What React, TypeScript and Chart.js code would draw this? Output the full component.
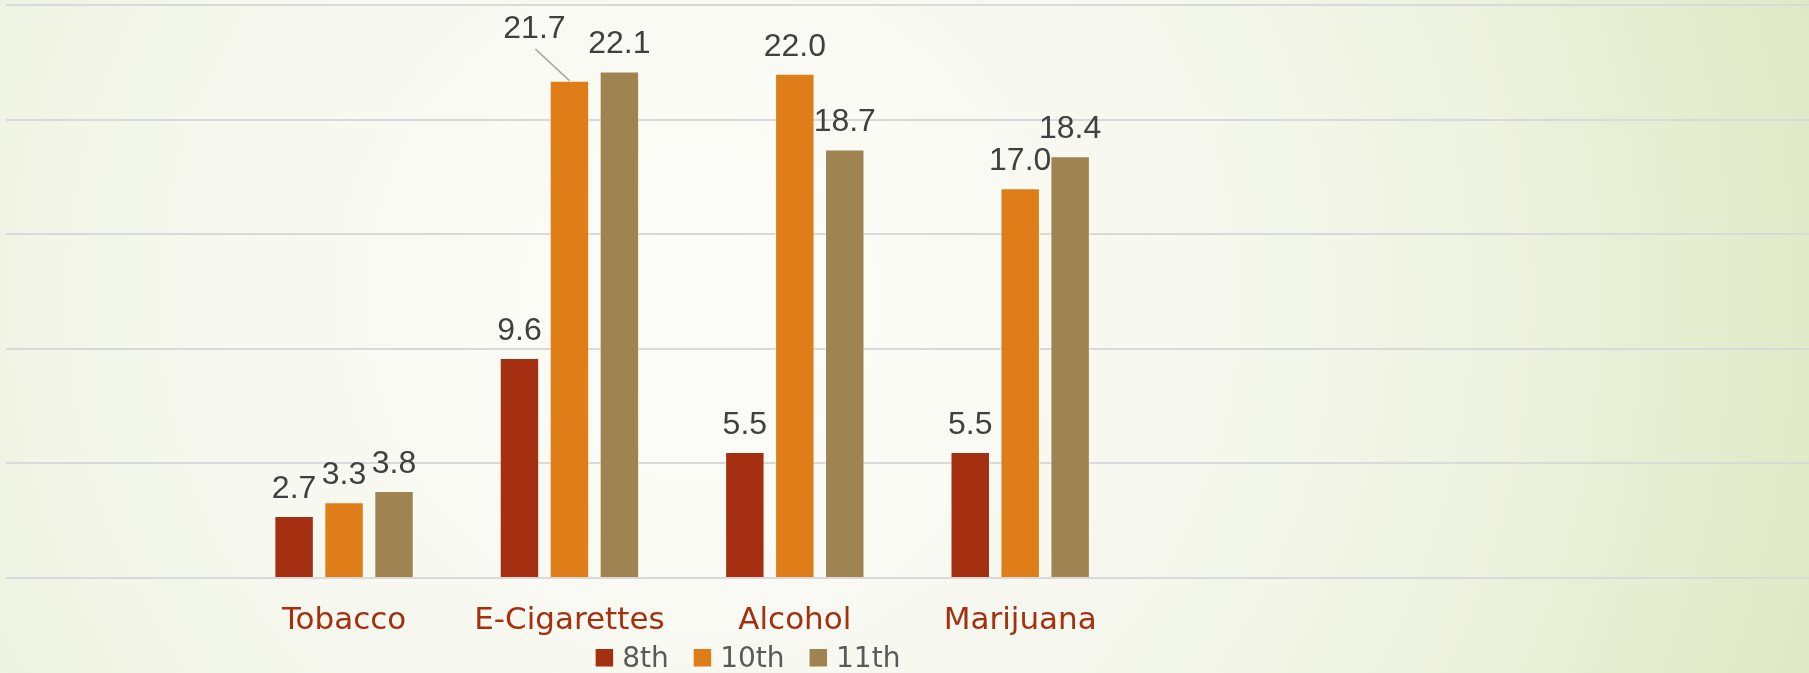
import React, { useEffect, useRef } from 'react';
import { Chart, registerables } from 'chart.js';

Chart.register(...registerables);

// ---- data ----
const categories = ['', 'Tobacco', 'E-Cigarettes', 'Alcohol', 'Marijuana', '', '', ''];
const grade8 = [null, 2.7, 9.6, 5.5, 5.5, null, null, null];
const grade10 = [null, 3.3, 21.7, 22.0, 17.0, null, null, null];
const grade11 = [null, 3.8, 22.1, 18.7, 18.4, null, null, null];
const seriesLabels = ['8th', '10th', '11th'];
const seriesColors = ['#A42F11', '#DF7E19', '#9F8350'];
const yMin = 0;
const yMax = 25;
const yStep = 5;

const valueLabelPlugin = {
  id: 'valueLabels',
  afterDatasetsDraw(chart: any) {
    const ctx = chart.ctx;
    ctx.save();
    ctx.font = '32px "Liberation Sans", Arial, sans-serif';
    ctx.fillStyle = '#404040';
    ctx.textAlign = 'center';
    ctx.textBaseline = 'alphabetic';
    chart.data.datasets.forEach((ds: any, di: number) => {
      const meta = chart.getDatasetMeta(di);
      meta.data.forEach((bar: any, i: number) => {
        const v = ds.data[i];
        if (v == null) return;
        const text = Number(v).toFixed(1);
        let x = bar.x;
        let y = bar.y - 18;
        // the 10th-grade E-Cigarettes label is pulled up-left with a leader line
        if (di === 1 && i === 2) {
          ctx.save();
          ctx.strokeStyle = '#A6A6A6';
          ctx.lineWidth = 1.5;
          ctx.beginPath();
          ctx.moveTo(bar.x, bar.y);
          ctx.lineTo(bar.x - 34, bar.y - 31.5);
          ctx.stroke();
          ctx.restore();
          x = bar.x - 35;
          y = bar.y - 42.4;
        }
        ctx.fillText(text, x, y);
      });
    });
    ctx.restore();
  },
};

const legendPlugin = {
  id: 'customLegend',
  afterDraw(chart: any) {
    const ctx = chart.ctx;
    const centerX = 748;
    const boxSize = 17.5;
    const boxGap = 9;
    const itemGap = 25;
    const textBaseline = 666.7;
    const boxTop = 649;
    ctx.save();
    ctx.font = '28px "DejaVu Sans", sans-serif';
    const items = chart.data.datasets.map((ds: any) => ({
      label: ds.label,
      color: ds.backgroundColor,
      w: ctx.measureText(ds.label).width,
    }));
    const total =
      items.reduce((s: number, it: any) => s + boxSize + boxGap + it.w, 0) +
      itemGap * (items.length - 1);
    let x = centerX - total / 2;
    items.forEach((it: any) => {
      ctx.fillStyle = it.color;
      ctx.fillRect(x, boxTop, boxSize, boxSize);
      x += boxSize + boxGap;
      ctx.fillStyle = '#595959';
      ctx.textAlign = 'left';
      ctx.textBaseline = 'alphabetic';
      ctx.fillText(it.label, x, textBaseline);
      x += it.w + itemGap;
    });
    ctx.restore();
  },
};

export default function App() {
  const canvasRef = useRef<HTMLCanvasElement | null>(null);

  useEffect(() => {
    if (!canvasRef.current) return;
    const seriesData = [grade8, grade10, grade11];
    const chart = new Chart(canvasRef.current, {
      type: 'bar',
      data: {
        labels: categories,
        datasets: seriesLabels.map((label, k) => ({
          label,
          data: seriesData[k],
          backgroundColor: seriesColors[k],
          borderColor: 'rgba(255,255,255,0.35)',
          borderWidth: 1,
          categoryPercentage: 0.665,
          barPercentage: 0.79,
        })),
      },
      options: {
        responsive: false,
        animation: false,
        layout: { padding: { top: 5, left: 6, right: 0, bottom: 0 } },
        plugins: {
          legend: { display: false },
          tooltip: { enabled: false },
        },
        scales: {
          x: {
            grid: { display: false, drawTicks: false },
            border: { display: false },
            ticks: {
              color: '#A5300F',
              font: { family: '"DejaVu Sans", sans-serif', size: 31 },
              padding: 24,
              maxRotation: 0,
              autoSkip: false,
            },
            afterFit: (scale: any) => {
              scale.height = 95;
            },
          },
          y: {
            min: yMin,
            max: yMax,
            ticks: { display: false, stepSize: yStep },
            grid: { color: '#D9D9D9', lineWidth: 2, drawTicks: false },
            border: { display: false },
            afterFit: (scale: any) => {
              scale.width = 0;
            },
          },
        },
      },
      plugins: [valueLabelPlugin, legendPlugin],
    });
    return () => chart.destroy();
  }, []);

  return (
    <div
      style={{
        position: 'fixed',
        left: 0,
        top: 0,
        width: 1809,
        height: 673,
        background:
          'radial-gradient(circle at 700px 300px, #FCFDF9 0px, #F6F8EF 500px, #EEF2E0 800px, #E0E9C5 1150px)',
      }}
    >
      <canvas ref={canvasRef} width={1809} height={673} style={{ width: 1809, height: 673, display: 'block' }} />
    </div>
  );
}
